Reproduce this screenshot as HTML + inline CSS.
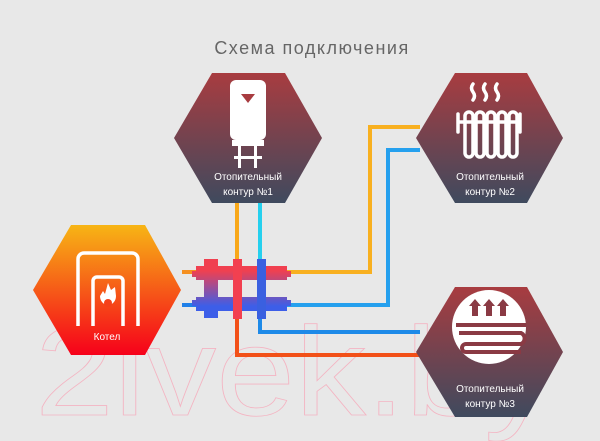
<!DOCTYPE html><html><head><meta charset="utf-8"><style>html,body{margin:0;background:#e8e8e8;overflow:hidden;width:600px;height:441px}svg{display:block}</style></head><body>
<svg width="600" height="441" viewBox="0 0 600 441" xmlns="http://www.w3.org/2000/svg" overflow="hidden">
<defs>
<linearGradient id="hx" x1="0" y1="0" x2="0" y2="1"><stop offset="0" stop-color="#a83c40"/><stop offset="1" stop-color="#3f4a5e"/></linearGradient>
<linearGradient id="bo" x1="0" y1="0" x2="0" y2="1"><stop offset="0" stop-color="#f7b515"/><stop offset="1" stop-color="#f6001a"/></linearGradient>
<linearGradient id="mf" x1="0" y1="0" x2="0" y2="1"><stop offset="0.2" stop-color="#f04050"/><stop offset="0.8" stop-color="#3d5ee8"/></linearGradient>
</defs>
<rect width="600" height="441" fill="#e8e8e8"/>
<text x="312" y="54" text-anchor="middle" font-family="Liberation Sans,sans-serif" font-size="18" fill="#666" letter-spacing="1.5">Схема подключения</text>
<text x="35" y="415" font-family="Liberation Sans,sans-serif" font-size="126" fill="none" stroke="#f4b4c2" stroke-width="0.8" textLength="520" lengthAdjust="spacingAndGlyphs">2ivek.by</text>
<g fill="none" stroke-width="4">
<path d="M182 272H200" stroke="#f59020"/>
<path d="M182 305H200" stroke="#2080e8"/>
<path d="M287 272H370V127H420" stroke="#f8b020"/>
<path d="M287 305H388V150H420" stroke="#25a0ee"/>
<path d="M237 203V262" stroke="#f8a81a"/>
<path d="M260 203V262" stroke="#25d0ee"/>
<path d="M260 318V332H420" stroke="#1e8ae8"/>
<path d="M237 318V355H420" stroke="#f25018"/>
</g>
<path d="M204 259h14v7h69v5h4v6h-4v3h-69v17h69v3h4v6h-4v5h-69v7h-14v-7h-8v-5h-4v-6h4v-3h8v-17h-8v-3h-4v-6h4v-5h8z" fill="url(#mf)"/>
<rect x="233" y="259" width="9" height="60" fill="#f24050"/>
<rect x="257" y="259" width="9" height="60" fill="#3a60e0"/>
<polygon points="212,73 285,73 322,138 285,203 212,203 174,138" fill="url(#hx)"/>
<polygon points="455,73 527,73 563,138 527,203 455,203 416,138" fill="url(#hx)"/>
<polygon points="455,287 527,287 563,352 527,417 455,417 416,352" fill="url(#hx)"/>
<polygon points="71,225 145,225 181,290 145,355 71,355 33,290" fill="url(#bo)"/>
<g fill="#fff"><rect x="230" y="80" width="36" height="60" rx="6"/><rect x="232" y="140" width="32" height="6"/><rect x="238" y="146" width="3" height="22"/><rect x="254" y="146" width="3" height="22"/><rect x="234" y="156" width="28" height="3"/></g>
<path d="M241 94h14l-7 9z" fill="#a83c40"/>
<g fill="none" stroke="#fff" stroke-width="3.5" stroke-linecap="round">
<path d="M473 84q-3 4 0 8t0 8M485 84q-3 4 0 8t0 8M497 84q-3 4 0 8t0 8"/>
<path d="M458 114v18M520 114v18M458 122h62"/>
<rect x="465" y="112" width="8" height="45" rx="4"/><rect x="476" y="112" width="8" height="45" rx="4"/><rect x="487" y="112" width="8" height="45" rx="4"/><rect x="498" y="112" width="8" height="45" rx="4"/><rect x="509" y="112" width="8" height="45" rx="4"/>
</g>
<circle cx="489" cy="327" r="37" fill="#fff"/>
<path d="M456 325h70M459 333h62a6 6 0 0 1 0 11h-55a4 4 0 0 0 0 8h55" fill="none" stroke="#8a3a44" stroke-width="4"/>
<g fill="#8a3a44"><path d="M469 306l6 -7 6 7h-3v10h-6v-10z"/><path d="M483 306l6 -7 6 7h-3v10h-6v-10z"/><path d="M497 306l6 -7 6 7h-3v10h-6v-10z"/></g>
<g fill="none" stroke="#fff" stroke-width="3.5" stroke-linejoin="round">
<path d="M78 326V259a6 6 0 0 1 6-6h48a6 6 0 0 1 6 6V326"/>
<path d="M93 326V281a4 4 0 0 1 4-4h22a4 4 0 0 1 4 4V326"/>
</g>
<path d="M108 283l3 7 4-3 1 9a8 9 0 1 1-16 0l3-5 2 3z" fill="#fff"/>
<circle cx="108" cy="303" r="4" fill="#f5401a"/>
<g font-family="Liberation Sans,sans-serif" font-size="10" fill="#fff" text-anchor="middle">
<text x="248" y="180">Отопительный</text><text x="248" y="195">контур  №1</text>
<text x="490" y="180">Отопительный</text><text x="490" y="195">контур  №2</text>
<text x="490" y="392">Отопительный</text><text x="490" y="407">контур  №3</text>
<text x="107" y="340">Котел</text>
</g>
</svg></body></html>
